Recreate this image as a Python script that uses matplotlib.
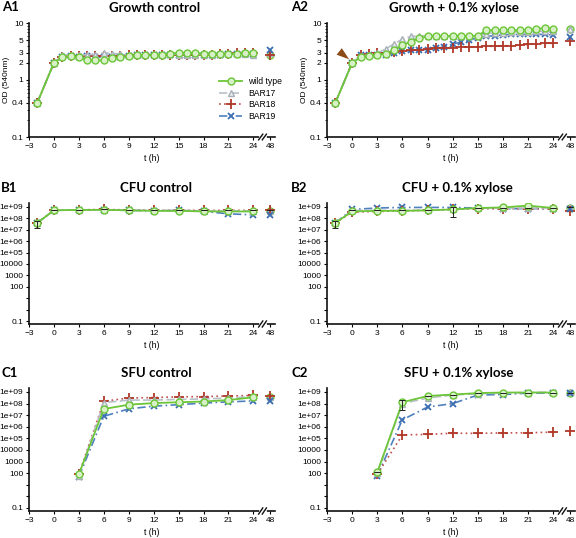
import matplotlib
matplotlib.use("Agg")
import matplotlib.pyplot as plt
import numpy as np
from matplotlib.ticker import FixedLocator, LogLocator, NullFormatter

# ---------------- data ----------------
t_od = [-2, 0, 1, 2, 3, 4, 5, 6, 7, 8, 9, 10, 11, 12, 13, 14, 15, 16, 17, 18, 19, 20, 21, 22, 23, 24, 48]
a1_wt = [0.4, 2.0, 2.5, 2.6, 2.5, 2.2, 2.2, 2.2, 2.4, 2.5, 2.6, 2.7, 2.7, 2.8, 2.8, 2.9, 3.0, 3.0, 2.95, 2.9, 2.9, 2.9, 2.9, 2.9, 2.95, 3.0, 2.7]
a1_b17 = [0.4, 2.0, 2.7, 2.8, 2.7, 2.8, 2.8, 3.0, 2.9, 2.9, 2.7, 2.7, 2.8, 2.8, 2.8, 2.9, 2.8, 2.8, 2.8, 2.8, 2.8, 2.9, 2.9, 2.9, 2.9, 2.8, 3.0]
a1_b18 = [0.4, 2.0, 2.5, 2.6, 2.6, 2.6, 2.6, 2.6, 2.6, 2.6, 2.7, 2.8, 2.8, 2.8, 2.8, 2.8, 2.8, 2.8, 2.8, 2.8, 2.8, 2.9, 2.9, 3.0, 3.0, 3.0, 2.8]
a1_b19 = [0.4, 2.0, 2.5, 2.6, 2.5, 2.6, 2.5, 2.5, 2.5, 2.5, 2.6, 2.7, 2.7, 2.7, 2.8, 2.8, 2.8, 2.8, 2.8, 2.8, 2.8, 2.8, 2.9, 2.9, 2.9, 2.9, 3.3]

a2_wt = [0.4, 2.0, 2.5, 2.6, 2.8, 2.9, 3.3, 4.1, 4.7, 5.4, 5.8, 5.8, 5.8, 5.9, 5.9, 5.9, 6.0, 7.4, 7.4, 7.4, 7.4, 7.5, 7.5, 7.8, 8.2, 7.9, 7.8]
a2_b17 = [0.4, 2.0, 2.6, 2.8, 3.0, 3.5, 4.3, 5.2, 5.8, 5.9, 6.0, 6.0, 5.9, 5.9, 5.9, 5.9, 6.0, 6.5, 6.7, 6.8, 7.0, 7.0, 7.0, 7.1, 7.2, 7.2, 8.0]
a2_b18 = [0.4, 2.0, 2.7, 2.9, 3.0, 3.0, 3.1, 3.2, 3.3, 3.4, 3.5, 3.6, 3.7, 3.7, 3.8, 3.8, 3.8, 3.9, 3.9, 4.0, 4.0, 4.1, 4.2, 4.3, 4.4, 4.4, 4.8]
a2_b19 = [0.4, 2.0, 2.7, 2.8, 2.8, 2.8, 3.0, 3.2, 3.3, 3.4, 3.4, 3.6, 3.8, 4.3, 4.6, 5.0, 5.5, 5.8, 6.0, 6.2, 6.3, 6.3, 6.3, 6.3, 6.3, 6.1, 5.6]

t_cfu = [-2, 0, 3, 6, 9, 12, 15, 18, 21, 24, 48]
b1_wt = [4e7, 5e8, 5.5e8, 5.5e8, 5e8, 4.5e8, 4.5e8, 4e8, 4e8, 4e8, 4e8]
b1_b17 = [4e7, 5e8, 5.5e8, 5.5e8, 5e8, 5e8, 5e8, 4.5e8, 4.5e8, 4.5e8, 4.5e8]
b1_b18 = [4e7, 5e8, 5.5e8, 6e8, 5.5e8, 5e8, 5e8, 5e8, 5e8, 5e8, 5e8]
b1_b19 = [4e7, 5e8, 5.5e8, 5.5e8, 5e8, 4.5e8, 5e8, 4e8, 2.5e8, 2e8, 2e8]
b1_err18 = [2.5e7, 0, 0, 0, 0, 0, 0, 0, 0, 0, 0]

b2_wt = [4e7, 4e8, 4.5e8, 4.5e8, 5e8, 6e8, 8e8, 9e8, 1.3e9, 8e8, 8e8]
b2_b17 = [4e7, 5e8, 5e8, 5e8, 5e8, 6e8, 8e8, 8e8, 8e8, 8e8, 9e8]
b2_b18 = [4e7, 3.5e8, 4e8, 4.5e8, 5e8, 6e8, 7e8, 7e8, 7e8, 7e8, 4e8]
b2_b19 = [4e7, 6e8, 8e8, 9e8, 9e8, 9e8, 8e8, 7e8, 7e8, 7e8, 7e8]
b2_err17 = [2.5e7, 0, 0, 0, 0, 4.8e8, 0, 0, 0, 0, 0]

t_sfu = [3, 6, 9, 12, 15, 18, 21, 24, 48]
c1_wt = [80, 3.4e7, 8e7, 1.1e8, 1.3e8, 1.5e8, 2e8, 3.5e8, 3.5e8]
c1_b17 = [60, 1.2e8, 2e8, 2e8, 2.3e8, 2.5e8, 3e8, 4e8, 4e8]
c1_b18 = [80, 1.6e8, 3e8, 3.3e8, 3.8e8, 4e8, 4.5e8, 5e8, 4.5e8]
c1_b19 = [50, 8e6, 3.5e7, 6e7, 8e7, 1.1e8, 1.4e8, 1.7e8, 1.8e8]

c2_wt = [120, 1.3e8, 4.5e8, 6e8, 8e8, 9e8, 9e8, 9e8, 9e8]
c2_b17 = [100, 1e8, 3e8, 5.5e8, 7e8, 8e8, 9e8, 9.5e8, 1e9]
c2_b18 = [80, 2e5, 2.2e5, 2.8e5, 2.7e5, 3e5, 3e5, 3.5e5, 4e5]
c2_b19 = [60, 4e6, 5e7, 1e8, 5.5e8, 6e8, 8e8, 8e8, 8e8]
c2_errwt = [0, 1e8, 0, 0, 0, 0, 0, 0, 0]

labels = ["wild type", "BAR17", "BAR18", "BAR19"]
xtick_labels = ["\u22123", "0", "3", "6", "9", "12", "15", "18", "21", "24", "48"]
xtick_times = [-3, 0, 3, 6, 9, 12, 15, 18, 21, 24, 48]
od_ticks = [0.1, 0.4, 1, 2, 3, 5, 10]
cfu_ticks = [0.1, 1, 10, 100, 1000, 10000, 1e5, 1e6, 1e7, 1e8, 1e9]
cfu_ticklabels = ["0.1", "", "", "100", "1000", "10000", "1e+05", "1e+06", "1e+07", "1e+08", "1e+09"]

# ---------------- styles ----------------
styles = [
    dict(color="#6CC638", ls="-", lw=1.3, marker="o", ms=5, mfc="#D8F0C8", mec="#6CC638", mew=1.0),
    dict(color="#B8C0C8", ls=(0, (5, 2)), lw=1.2, marker="^", ms=5, mfc="#E8ECF0", mec="#A8B0B8", mew=1.0),
    dict(color="#C0504D", ls=(0, (1, 2)), lw=1.2, marker="+", ms=7, mfc="none", mec="#B03828", mew=1.3),
    dict(color="#4F81BD", ls=(0, (5, 2, 1, 2)), lw=1.2, marker="x", ms=5, mfc="none", mec="#3A6CB0", mew=1.3),
]

plt.rcParams["font.family"] = ["Liberation Sans", "DejaVu Sans"]


def pos(t):
    return np.array([x if x <= 24 else 26 for x in t], dtype=float)


fig = plt.figure(figsize=(5.76, 5.38), dpi=100)

W = 576.0
H = 538.0


def make_ax(left_px, right_px, top_px, bottom_px):
    return fig.add_axes([left_px / W, 1 - bottom_px / H, (right_px - left_px) / W, (bottom_px - top_px) / H])


def draw(ax, t, series, errs=None):
    t = list(t)
    main = [i for i, x in enumerate(t) if x <= 24]
    extra = [i for i, x in enumerate(t) if x > 24]
    p = pos(t)
    handles = []
    for k, (vals, st) in enumerate(zip(series, styles)):
        vals = np.array(vals, dtype=float)
        if errs is not None and errs.get(k) is not None:
            e = np.array(errs[k], dtype=float)
            ax.errorbar(p, vals, yerr=[e, e * 0.6], fmt="none", ecolor="#222222", elinewidth=0.7,
                        capsize=2, capthick=0.7, zorder=5)
        h, = ax.plot(p[main], vals[main], label=labels[k], zorder=3 + (3 - k) * 0.1, **st)
        st2 = dict(st)
        st2["ls"] = "none"
        ax.plot(p[extra], vals[extra], zorder=3, **st2)
        handles.append(h)
    return handles


def style_axes(ax, kind):
    ax.set_yscale("log")
    ax.set_xlim(-3, 26.6)
    if kind == "od":
        ax.set_ylim(0.1, 10)
        ax.yaxis.set_major_locator(FixedLocator(od_ticks))
        ax.set_yticklabels([("%g" % v) for v in od_ticks])
        ax.yaxis.set_minor_locator(LogLocator(base=10, subs=np.arange(2, 10)))
        ax.set_ylabel("OD (540nm)", fontsize=6, labelpad=1)
    else:
        ax.set_ylim(0.055, 2.2e9)
        ax.yaxis.set_major_locator(FixedLocator(cfu_ticks))
        ax.set_yticklabels(cfu_ticklabels)
        ax.yaxis.set_minor_locator(LogLocator(base=10, subs=np.arange(2, 10)))
    ax.yaxis.set_minor_formatter(NullFormatter())
    ax.set_xticks(pos(xtick_times))
    ax.set_xticklabels(xtick_labels)
    ax.tick_params(axis="both", labelsize=6, direction="out", length=2.5, width=0.8, pad=1.5)
    ax.tick_params(axis="y", which="minor", length=1.5, width=0.6)
    for s in ["top", "right"]:
        ax.spines[s].set_visible(False)
    for s in ["left", "bottom"]:
        ax.spines[s].set_linewidth(1.2)
        ax.spines[s].set_color("#111111")
    ax.set_xlabel("t (h)", fontsize=6.3, labelpad=3)
    # axis break mark
    ax.plot([24.85, 25.35], [0, 0], transform=ax.get_xaxis_transform(), color="white", lw=2.0,
            clip_on=False, zorder=9)
    for dx in (-0.22, 0.22):
        ax.plot([25.1 + dx - 0.25, 25.1 + dx + 0.25], [-0.025, 0.025], transform=ax.get_xaxis_transform(),
                color="#111111", lw=1.0, clip_on=False, zorder=10)


# ---- A1 ----
axA1 = make_ax(29, 275, 23, 137)
hs = draw(axA1, t_od, [a1_wt, a1_b17, a1_b18, a1_b19])
style_axes(axA1, "od")
axA1.legend(handles=hs, loc="upper left", bbox_to_anchor=(0.76, 0.555), frameon=False, fontsize=6.2,
            handlelength=2.6, labelspacing=0.3, handletextpad=0.7, borderaxespad=0)

# ---- A2 ----
axA2 = make_ax(327, 575, 23, 137)
draw(axA2, t_od, [a2_wt, a2_b17, a2_b18, a2_b19])
style_axes(axA2, "od")
axA2.annotate("", xy=(-0.1, 2.15), xytext=(-1.8, 3.4),
              arrowprops=dict(arrowstyle="wedge,tail_width=0.6,shrink_factor=0.5", color="#8B4A16", lw=0),
              zorder=8)

# ---- B1 ----
axB1 = make_ax(29, 275, 203, 324)
draw(axB1, t_cfu, [b1_wt, b1_b17, b1_b18, b1_b19], errs={2: b1_err18})
style_axes(axB1, "cfu")

# ---- B2 ----
axB2 = make_ax(327, 575, 203, 324)
draw(axB2, t_cfu, [b2_wt, b2_b17, b2_b18, b2_b19], errs={1: b2_err17})
style_axes(axB2, "cfu")

# ---- C1 ----
axC1 = make_ax(29, 275, 388, 511)
draw(axC1, t_sfu, [c1_wt, c1_b17, c1_b18, c1_b19])
style_axes(axC1, "cfu")

# ---- C2 ----
axC2 = make_ax(327, 575, 388, 511)
draw(axC2, t_sfu, [c2_wt, c2_b17, c2_b18, c2_b19], errs={0: c2_errwt})
style_axes(axC2, "cfu")

# titles and panel letters
bold = dict(fontsize=9.5, fontweight="bold", va="center", family=["Lato", "DejaVu Sans"])
for txt, x, y in [("Growth control", 155, 8), ("Growth + 0.1% xylose", 454, 8),
                  ("CFU control", 156, 188), ("CFU + 0.1% xylose", 457, 188),
                  ("SFU control", 156, 373), ("SFU + 0.1% xylose", 459, 373)]:
    fig.text(x / W, 1 - y / H, txt, ha="center", **bold)
for txt, x, y in [("A1", 2, 7), ("A2", 291, 7), ("B1", 1, 188), ("B2", 291, 188),
                  ("C1", 1, 373), ("C2", 291, 373)]:
    fig.text(x / W, 1 - y / H, txt, ha="left", **bold)

fig.savefig("out.png", dpi=100)
